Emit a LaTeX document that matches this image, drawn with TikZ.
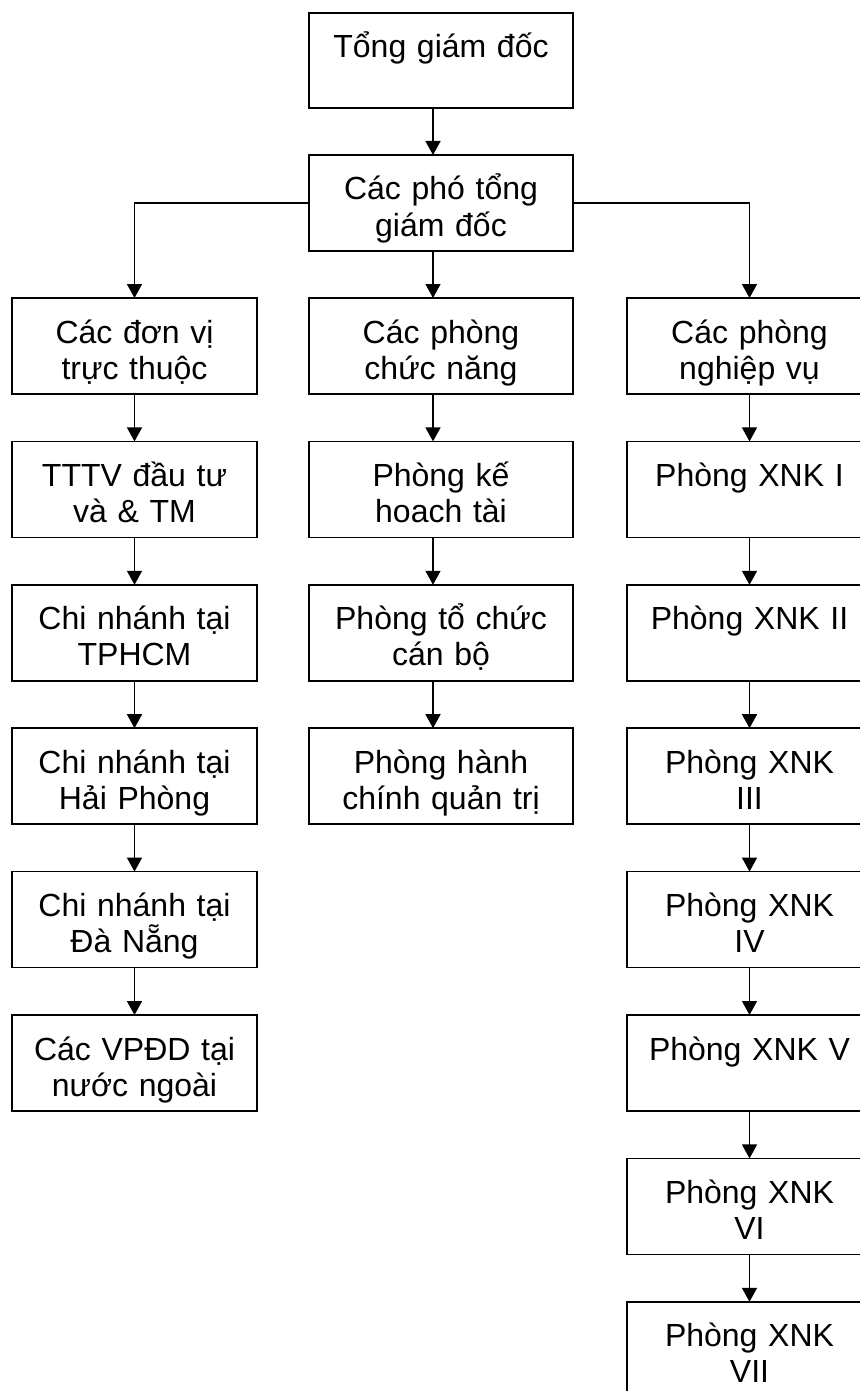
\documentclass[tikz,border=0pt]{standalone}
\usepackage{fontspec}
\setmainfont{Liberation Sans}
\usetikzlibrary{arrows.meta, positioning}

\begin{document}
\begin{tikzpicture}[
  node distance=23.7pt and 26pt,
  unit/.style={draw, line width=0.85pt, inner sep=0pt, outer sep=0pt,
               text width=122.5pt, align=center, text height=22.5pt,
               text depth=25.5pt, font=\fontsize{16}{18}\selectfont},
  wideunit/.style={unit, text width=132pt},
  arr/.style={-{Triangle[length=7pt, width=7.5pt]}, line width=0.75pt},
]
\path[use as bounding box, fill=white] (0,0) rectangle (430pt,-695.5pt);
\clip (0,0) rectangle (430pt,-695.5pt);

% Ban giám đốc
\node[wideunit, anchor=north, text depth=25pt] (tgd) at (220.5pt,-6.5pt) {Tổng giám đốc};
\node[wideunit, below=23.5pt of tgd] (ptgd) {Các phó tổng\\giám đốc};

% Ba khối
\node[wideunit, below=23.5pt of ptgd] (pcn) {Các phòng\\chức năng};
\node[unit, left=26pt of pcn] (dvtt) {Các đơn vị\\trực thuộc};
\node[unit, right=27pt of pcn] (pnv) {Các phòng\\nghiệp vụ};

% Đơn vị trực thuộc (trái)
\node[unit, below=of dvtt] (tttv) {TTTV đầu tư\\và \& TM};
\node[unit, below=of tttv] (cnhcm) {Chi nhánh tại\\TPHCM};
\node[unit, below=of cnhcm] (cnhp) {Chi nhánh tại\\Hải Phòng};
\node[unit, below=of cnhp] (cndn) {Chi nhánh tại\\Đà Nẵng};
\node[unit, below=of cndn] (vpdd) {Các VPĐD tại\\nước ngoài};

% Phòng chức năng (giữa)
\node[wideunit, below=of pcn] (pkh) {Phòng kế\\hoach tài};
\node[wideunit, below=of pkh] (ptc) {Phòng tổ chức\\cán bộ};
\node[wideunit, below=of ptc] (phc) {Phòng hành\\chính quản trị};

% Phòng nghiệp vụ (phải)
\node[unit, below=of pnv] (xnk1) {Phòng XNK I};
\node[unit, below=of xnk1] (xnk2) {Phòng XNK II};
\node[unit, below=of xnk2] (xnk3) {Phòng XNK\\III};
\node[unit, below=of xnk3] (xnk4) {Phòng XNK\\IV};
\node[unit, below=of xnk4] (xnk5) {Phòng XNK V};
\node[unit, below=of xnk5] (xnk6) {Phòng XNK\\VI};
\node[unit, below=of xnk6] (xnk7) {Phòng XNK\\VII};

% Mũi tên
\draw[arr] ([xshift=-4pt]tgd.south) -- ([xshift=-4pt]ptgd.north);
\draw[arr] (ptgd.west) -| (dvtt.north);
\draw[arr] (ptgd.east) -| (pnv.north);
\draw[arr] ([xshift=-4pt]ptgd.south) -- ([xshift=-4pt]pcn.north);

\draw[arr] (dvtt) -- (tttv);
\draw[arr] (tttv) -- (cnhcm);
\draw[arr] (cnhcm) -- (cnhp);
\draw[arr] (cnhp) -- (cndn);
\draw[arr] (cndn) -- (vpdd);

\draw[arr] ([xshift=-4pt]pcn.south) -- ([xshift=-4pt]pkh.north);
\draw[arr] ([xshift=-4pt]pkh.south) -- ([xshift=-4pt]ptc.north);
\draw[arr] ([xshift=-4pt]ptc.south) -- ([xshift=-4pt]phc.north);

\draw[arr] (pnv) -- (xnk1);
\draw[arr] (xnk1) -- (xnk2);
\draw[arr] (xnk2) -- (xnk3);
\draw[arr] (xnk3) -- (xnk4);
\draw[arr] (xnk4) -- (xnk5);
\draw[arr] (xnk5) -- (xnk6);
\draw[arr] (xnk6) -- (xnk7);

\end{tikzpicture}
\end{document}
